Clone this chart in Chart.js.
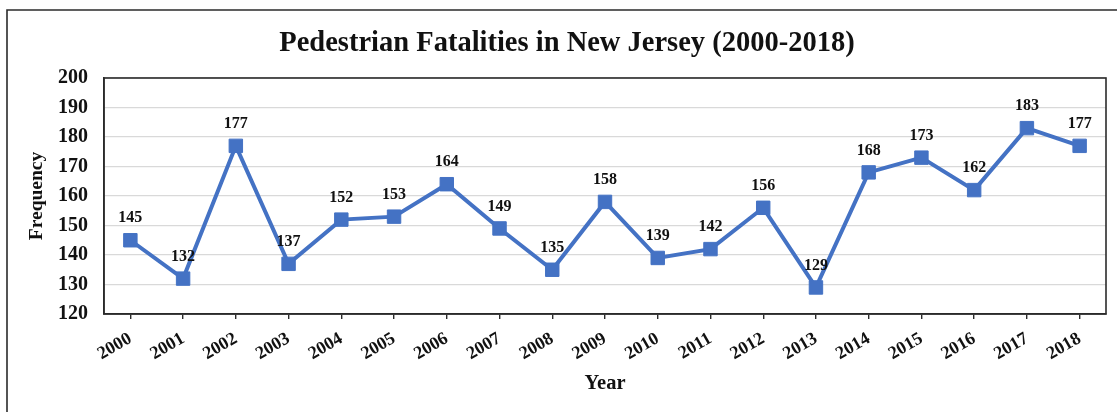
<!DOCTYPE html>
<html>
<head>
<meta charset="utf-8">
<script src="https://cdn.jsdelivr.net/npm/chart.js@4/dist/chart.umd.min.js"></script>
<style>
  html, body { margin: 0; padding: 0; background: #ffffff; }
  #wrap { width: 1117px; height: 412px; position: relative; }
</style>
</head>
<body>
<div id="wrap"><canvas id="chart" width="1117" height="412"></canvas></div>
<script>
// Pedestrian fatalities per year in New Jersey
const years = ['2000','2001','2002','2003','2004','2005','2006','2007','2008','2009',
               '2010','2011','2012','2013','2014','2015','2016','2017','2018'];
const fatalities = [145, 132, 177, 137, 152, 153, 164, 149, 135, 158,
                    139, 142, 156, 129, 168, 173, 162, 183, 177];
const yTicks = { min: 120, max: 200, step: 10 };

const chartTitle = 'Pedestrian Fatalities in New Jersey (2000-2018)';
const xTitle = 'Year';
const yTitle = 'Frequency';

const SERIF = '"Liberation Serif", "Times New Roman", serif';
const BLUE = '#4472C4';
const FRAME_LEFT = 7;
const FRAME_TOP = 10;

// Outer frame, heading, plot-area box and value labels above each point
const decorations = {
  id: 'decorations',
  beforeDraw(chart) {
    const ctx = chart.ctx;
    ctx.save();
    ctx.fillStyle = '#ffffff';
    ctx.fillRect(0, 0, chart.width, chart.height);
    ctx.strokeStyle = '#2b2b2b';
    ctx.lineWidth = 1.6;
    ctx.beginPath();
    ctx.moveTo(FRAME_LEFT, chart.height + 2);
    ctx.lineTo(FRAME_LEFT, FRAME_TOP);
    ctx.lineTo(chart.width + 2, FRAME_TOP);
    ctx.stroke();
    // heading, centred on the framed region
    ctx.font = 'bold 28.5px ' + SERIF;
    ctx.fillStyle = '#111111';
    ctx.textAlign = 'center';
    ctx.textBaseline = 'middle';
    ctx.fillText(chartTitle, 567, 44);
    ctx.restore();
  },
  beforeDatasetsDraw(chart) {
    const { ctx, chartArea: a } = chart;
    ctx.save();
    ctx.strokeStyle = '#2b2b2b';
    ctx.lineWidth = 1.6;
    ctx.strokeRect(a.left, a.top, a.right - a.left, a.bottom - a.top);
    ctx.restore();
  },
  afterDatasetsDraw(chart) {
    const ctx = chart.ctx;
    const meta = chart.getDatasetMeta(0);
    ctx.save();
    ctx.font = 'bold 16px ' + SERIF;
    ctx.fillStyle = '#111111';
    ctx.textAlign = 'center';
    ctx.textBaseline = 'middle';
    meta.data.forEach((pt, i) => {
      ctx.fillText(String(chart.data.datasets[0].data[i]), pt.x, pt.y - 22);
    });
    ctx.restore();
  }
};

new Chart(document.getElementById('chart'), {
  type: 'line',
  data: {
    labels: years,
    datasets: [{
      data: fatalities,
      borderColor: BLUE,
      backgroundColor: BLUE,
      borderWidth: 4,
      pointStyle: 'rect',
      pointRadius: 9.5,
      pointHoverRadius: 9.5,
      pointBorderWidth: 1,
      pointBorderColor: BLUE,
      pointBackgroundColor: BLUE,
      tension: 0,
      fill: false
    }]
  },
  options: {
    responsive: false,
    animation: false,
    devicePixelRatio: 1,
    layout: { padding: { left: 0, right: 11, top: 78, bottom: 0 } },
    plugins: {
      legend: { display: false },
      tooltip: { enabled: false },
      title: { display: false }
    },
    scales: {
      x: {
        type: 'category',
        offset: true,
        border: { display: true, color: '#2b2b2b', width: 1.6 },
        grid: { display: true, drawOnChartArea: false, drawTicks: true, tickLength: 5,
                color: '#2b2b2b', lineWidth: 1.4, offset: false },
        ticks: {
          color: '#111111',
          font: { family: SERIF, size: 18, weight: 'bold' },
          minRotation: 30, maxRotation: 30,
          padding: 9, autoSkip: false
        },
        title: {
          display: true,
          text: xTitle,
          color: '#111111',
          font: { family: SERIF, size: 20.5, weight: 'bold', lineHeight: 1.2 },
          padding: { top: 4, bottom: 16 }
        },
        afterFit(scale) { scale.height = 98; }
      },
      y: {
        min: yTicks.min,
        max: yTicks.max,
        border: { display: true, color: '#2b2b2b', width: 1.6 },
        grid: { color: '#d9d9d9', lineWidth: 1.3, drawTicks: false },
        ticks: {
          stepSize: yTicks.step,
          color: '#111111',
          font: { family: SERIF, size: 20, weight: 'bold' },
          padding: 16
        },
        title: {
          display: true,
          text: yTitle,
          color: '#111111',
          font: { family: SERIF, size: 19.5, weight: 'bold', lineHeight: 1.2 },
          padding: { top: 25, bottom: 4 }
        },
        afterFit(scale) { scale.width = 104; }
      }
    }
  },
  plugins: [decorations]
});
</script>
</body>
</html>
